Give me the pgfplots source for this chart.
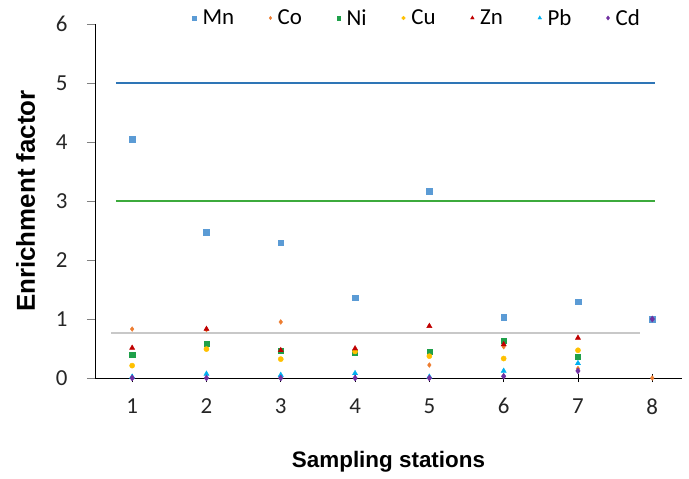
\documentclass[border=0pt]{standalone}
\usepackage{fontspec}
\setmainfont{Carlito}
\newfontfamily\arialfont{Liberation Sans}
\usepackage{pgfplots}
\pgfplotsset{compat=1.18}
\definecolor{cMn}{HTML}{5B9BD5}
\definecolor{cCo}{HTML}{ED7D31}
\definecolor{cNi}{HTML}{1FA04A}
\definecolor{cCu}{HTML}{FFC000}
\definecolor{cZn}{HTML}{C00000}
\definecolor{cPb}{HTML}{00B0F0}
\definecolor{cCd}{HTML}{7030A0}
\definecolor{lblue}{HTML}{2E75B6}
\definecolor{lgreen}{HTML}{3CAA3C}
\definecolor{lgray}{HTML}{C8C8C8}
\begin{document}
\begin{tikzpicture}
\begin{axis}[
  scale only axis, width=587bp, height=354bp,
  xmin=0.5, xmax=8.4, ymin=0, ymax=6,
  axis x line=bottom, axis y line=left,
  axis line style={-, black, line width=0.9pt},
  xtick={1,...,8}, ytick={0,...,6},
  major tick length=8bp,
  x tick style={black, line width=0.8pt},
  y tick style={gray, line width=0.8pt},
  xtick align=center, ytick align=outside,
  /pgf/number format/assume math mode=true,
  tick label style={font=\fontsize{23}{26}\selectfont, text=black!85},
  xticklabel style={yshift=-13bp},
  yticklabel style={xshift=-16bp},
  xlabel={\arialfont\bfseries Sampling stations},
  ylabel={\arialfont\bfseries Enrichment factor},
  xlabel style={font=\fontsize{22.5}{26}\selectfont, yshift=-30bp},
  ylabel style={font=\fontsize{26}{30}\selectfont, yshift=14bp},
  legend columns=7,
  legend style={draw=none, fill=none, at={(rel axis cs:0.549,1.017)}, anchor=center,
    font=\fontsize{23}{26}\selectfont, column sep=4bp},
  legend cell align=left,
  legend image post style={scale=0.7},
  clip=false,
]
\coordinate (O) at (rel axis cs:0,0);
\addplot[only marks, mark=square*, mark size=2.8bp, color=cMn] coordinates {(1,4.05) (2,2.47) (3,2.29) (4,1.36) (5,3.17) (6,1.03) (7,1.29) (8,1.0)};
\addlegendentry{Mn\hspace*{29bp}}
\addplot[only marks, mark=diamond*, mark size=2.4bp, color=cCo] coordinates {(1,0.83) (2,0.82) (3,0.95) (4,0.45) (5,0.22) (6,0.53) (7,0.16) (8,0.0)};
\addlegendentry{Co\hspace*{29bp}}
\addplot[only marks, mark=square*, mark size=2.6bp, color=cNi] coordinates {(1,0.39) (2,0.58) (3,0.46) (4,0.43) (5,0.44) (6,0.63) (7,0.36)};
\addlegendentry{Ni\hspace*{29bp}}
\addplot[only marks, mark=*, mark size=2.6bp, color=cCu] coordinates {(1,0.21) (2,0.49) (3,0.32) (4,0.45) (5,0.37) (6,0.33) (7,0.47)};
\addlegendentry{Cu\hspace*{29bp}}
\addplot[only marks, mark=triangle*, mark size=3bp, color=cZn] coordinates {(1,0.51) (2,0.83) (3,0.47) (4,0.50) (5,0.88) (6,0.57) (7,0.68)};
\addlegendentry{Zn\hspace*{29bp}}
\addplot[only marks, mark=triangle*, mark size=3bp, color=cPb] coordinates {(1,0.02) (2,0.07) (3,0.05) (4,0.08) (5,0.02) (6,0.12) (7,0.25)};
\addlegendentry{Pb\hspace*{29bp}}
\addplot[only marks, mark=diamond*, mark size=3bp, color=cCd] coordinates {(1,0) (2,0) (3,0) (4,0) (5,0) (6,0.03) (7,0.12) (8,1.0)};
\addlegendentry{Cd}
\addplot[lblue, line width=2pt, forget plot] coordinates {(0.78,5) (8.04,5)};
\addplot[lgreen, line width=2pt, forget plot] coordinates {(0.78,3) (8.04,3)};
\addplot[lgray, line width=2pt, forget plot] coordinates {(0.72,0.76) (7.84,0.76)};
\end{axis}
\pgfresetboundingbox
\path ([shift={(-95bp,-101bp)}]O) rectangle ([shift={(594bp,378bp)}]O);
\end{tikzpicture}
\end{document}
